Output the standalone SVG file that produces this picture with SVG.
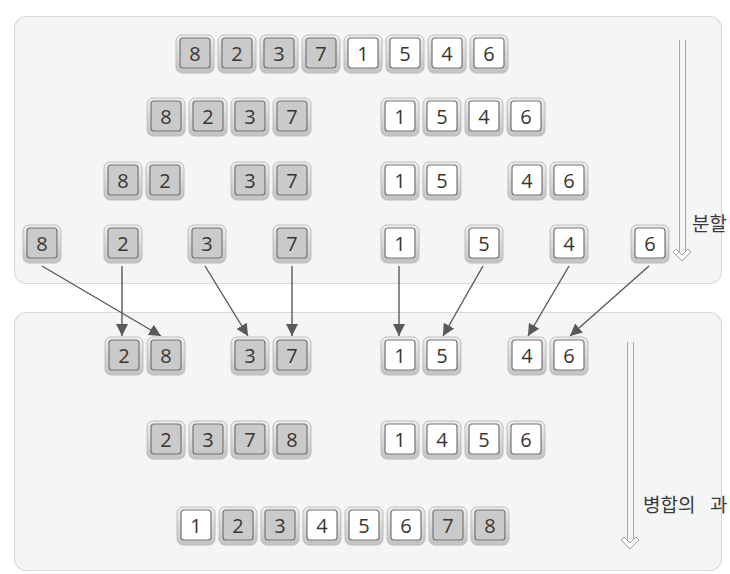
<svg xmlns="http://www.w3.org/2000/svg" xmlns:xlink="http://www.w3.org/1999/xlink" width="730" height="574" viewBox="0 0 730 574">
<style>
.panel{fill:#f4f5f5;stroke:#d9dbdb;stroke-width:1.2}
.k text{font-family:"Open Sans","DejaVu Sans",sans-serif;font-size:20px;fill:#3a3530;text-anchor:middle;dominant-baseline:central}
.conn line{stroke:#595959;stroke-width:1.4;fill:none}
.lbl{font-family:"Noto Sans CJK KR",sans-serif;font-size:19px;fill:#3a3a3a}
.dbl{stroke:#a8a8a8;stroke-width:1;fill:none}
.chev{fill:#ffffff;stroke:#a0a0a0;stroke-width:1}
</style>
<defs>
<linearGradient id="og" x1="0" y1="0" x2="0" y2="1">
<stop offset="0" stop-color="#efefef"/>
<stop offset="1" stop-color="#c2c2c2"/>
</linearGradient>
<g id="keyG">
<rect x="-19" y="-19" width="38" height="38" rx="6" fill="url(#og)" stroke="#bcbcbc" stroke-width="1"/>
<rect x="-15" y="-16" width="30" height="30" rx="3" fill="#cacaca" stroke="#757575" stroke-width="1.2"/>
</g>
<g id="keyW">
<rect x="-19" y="-19" width="38" height="38" rx="6" fill="url(#og)" stroke="#bcbcbc" stroke-width="1"/>
<rect x="-15" y="-16" width="30" height="30" rx="3" fill="#ffffff" stroke="#757575" stroke-width="1.2"/>
</g>
<marker id="ah" viewBox="0 0 10 10" refX="10" refY="5" markerWidth="12" markerHeight="12" markerUnits="userSpaceOnUse" orient="auto">
<path d="M0,0 L10,5 L0,10 Z" fill="#595959"/>
</marker>
</defs>
<rect width="730" height="574" fill="#ffffff"/>
<rect class="panel" x="14.5" y="16.5" width="707" height="267" rx="12"/>
<rect class="panel" x="14.5" y="312.5" width="707" height="258" rx="12"/>

<g id="flow-split">
<line class="dbl" x1="679.5" y1="40" x2="679.5" y2="254"/>
<line class="dbl" x1="685.5" y1="40" x2="685.5" y2="254"/>
<path class="chev" d="M673,252 L676,249 L682,255 L688,249 L691,252 L682,261 Z"/>
<text class="lbl" x="692" y="231">분할</text>
</g>
<g id="flow-merge">
<line class="dbl" x1="627.5" y1="342" x2="627.5" y2="542"/>
<line class="dbl" x1="633.5" y1="342" x2="633.5" y2="542"/>
<path class="chev" d="M621,540 L624,537 L630,543 L636,537 L639,540 L630,549 Z"/>
<text class="lbl" x="643" y="512">병합의<tspan x="710">과</tspan></text>
</g>

<g id="connectors" class="conn">
<line x1="42" y1="266" x2="161" y2="336" marker-end="url(#ah)"/>
<line x1="122" y1="266" x2="122" y2="336" marker-end="url(#ah)"/>
<line x1="205" y1="266" x2="248" y2="336" marker-end="url(#ah)"/>
<line x1="292" y1="266" x2="292" y2="336" marker-end="url(#ah)"/>
<line x1="399" y1="266" x2="399" y2="336" marker-end="url(#ah)"/>
<line x1="483" y1="266" x2="443" y2="336" marker-end="url(#ah)"/>
<line x1="569" y1="266" x2="528" y2="336" marker-end="url(#ah)"/>
<line x1="649" y1="266" x2="570" y2="336" marker-end="url(#ah)"/>
</g>

<g id="r1" class="k">
<g id="r1-8" transform="translate(195,54)"><use href="#keyG"/><text y="-1">8</text></g>
<g id="r1-2" transform="translate(237,54)"><use href="#keyG"/><text y="-1">2</text></g>
<g id="r1-3" transform="translate(279,54)"><use href="#keyG"/><text y="-1">3</text></g>
<g id="r1-7" transform="translate(321,54)"><use href="#keyG"/><text y="-1">7</text></g>
<g id="r1-1" transform="translate(363,54)"><use href="#keyW"/><text y="-1">1</text></g>
<g id="r1-5" transform="translate(405,54)"><use href="#keyW"/><text y="-1">5</text></g>
<g id="r1-4" transform="translate(447,54)"><use href="#keyW"/><text y="-1">4</text></g>
<g id="r1-6" transform="translate(489,54)"><use href="#keyW"/><text y="-1">6</text></g>
</g>
<g id="r2" class="k">
<g id="r2-8" transform="translate(166,117)"><use href="#keyG"/><text y="-1">8</text></g>
<g id="r2-2" transform="translate(208,117)"><use href="#keyG"/><text y="-1">2</text></g>
<g id="r2-3" transform="translate(250,117)"><use href="#keyG"/><text y="-1">3</text></g>
<g id="r2-7" transform="translate(292,117)"><use href="#keyG"/><text y="-1">7</text></g>
<g id="r2-1" transform="translate(400,117)"><use href="#keyW"/><text y="-1">1</text></g>
<g id="r2-5" transform="translate(442,117)"><use href="#keyW"/><text y="-1">5</text></g>
<g id="r2-4" transform="translate(484,117)"><use href="#keyW"/><text y="-1">4</text></g>
<g id="r2-6" transform="translate(526,117)"><use href="#keyW"/><text y="-1">6</text></g>
</g>
<g id="r3" class="k">
<g id="r3-8" transform="translate(123,181)"><use href="#keyG"/><text y="-1">8</text></g>
<g id="r3-2" transform="translate(165,181)"><use href="#keyG"/><text y="-1">2</text></g>
<g id="r3-3" transform="translate(250,181)"><use href="#keyG"/><text y="-1">3</text></g>
<g id="r3-7" transform="translate(292,181)"><use href="#keyG"/><text y="-1">7</text></g>
<g id="r3-1" transform="translate(400,181)"><use href="#keyW"/><text y="-1">1</text></g>
<g id="r3-5" transform="translate(442,181)"><use href="#keyW"/><text y="-1">5</text></g>
<g id="r3-4" transform="translate(527,181)"><use href="#keyW"/><text y="-1">4</text></g>
<g id="r3-6" transform="translate(569,181)"><use href="#keyW"/><text y="-1">6</text></g>
</g>
<g id="r4" class="k">
<g id="r4-8" transform="translate(42,244)"><use href="#keyG"/><text y="-1">8</text></g>
<g id="r4-2" transform="translate(123,244)"><use href="#keyG"/><text y="-1">2</text></g>
<g id="r4-3" transform="translate(207,244)"><use href="#keyG"/><text y="-1">3</text></g>
<g id="r4-7" transform="translate(292,244)"><use href="#keyG"/><text y="-1">7</text></g>
<g id="r4-1" transform="translate(400,244)"><use href="#keyW"/><text y="-1">1</text></g>
<g id="r4-5" transform="translate(484,244)"><use href="#keyW"/><text y="-1">5</text></g>
<g id="r4-4" transform="translate(569,244)"><use href="#keyW"/><text y="-1">4</text></g>
<g id="r4-6" transform="translate(650,244)"><use href="#keyW"/><text y="-1">6</text></g>
</g>
<g id="r5" class="k">
<g id="r5-2" transform="translate(124,356)"><use href="#keyG"/><text y="-1">2</text></g>
<g id="r5-8" transform="translate(166,356)"><use href="#keyG"/><text y="-1">8</text></g>
<g id="r5-3" transform="translate(250,356)"><use href="#keyG"/><text y="-1">3</text></g>
<g id="r5-7" transform="translate(292,356)"><use href="#keyG"/><text y="-1">7</text></g>
<g id="r5-1" transform="translate(400,356)"><use href="#keyW"/><text y="-1">1</text></g>
<g id="r5-5" transform="translate(442,356)"><use href="#keyW"/><text y="-1">5</text></g>
<g id="r5-4" transform="translate(527,356)"><use href="#keyW"/><text y="-1">4</text></g>
<g id="r5-6" transform="translate(569,356)"><use href="#keyW"/><text y="-1">6</text></g>
</g>
<g id="r6" class="k">
<g id="r6-2" transform="translate(166,440)"><use href="#keyG"/><text y="-1">2</text></g>
<g id="r6-3" transform="translate(208,440)"><use href="#keyG"/><text y="-1">3</text></g>
<g id="r6-7" transform="translate(250,440)"><use href="#keyG"/><text y="-1">7</text></g>
<g id="r6-8" transform="translate(292,440)"><use href="#keyG"/><text y="-1">8</text></g>
<g id="r6-1" transform="translate(400,440)"><use href="#keyW"/><text y="-1">1</text></g>
<g id="r6-4" transform="translate(442,440)"><use href="#keyW"/><text y="-1">4</text></g>
<g id="r6-5" transform="translate(484,440)"><use href="#keyW"/><text y="-1">5</text></g>
<g id="r6-6" transform="translate(526,440)"><use href="#keyW"/><text y="-1">6</text></g>
</g>
<g id="r7" class="k">
<g id="r7-1" transform="translate(196,526)"><use href="#keyW"/><text y="-1">1</text></g>
<g id="r7-2" transform="translate(238,526)"><use href="#keyG"/><text y="-1">2</text></g>
<g id="r7-3" transform="translate(280,526)"><use href="#keyG"/><text y="-1">3</text></g>
<g id="r7-4" transform="translate(322,526)"><use href="#keyW"/><text y="-1">4</text></g>
<g id="r7-5" transform="translate(364,526)"><use href="#keyW"/><text y="-1">5</text></g>
<g id="r7-6" transform="translate(406,526)"><use href="#keyW"/><text y="-1">6</text></g>
<g id="r7-7" transform="translate(448,526)"><use href="#keyG"/><text y="-1">7</text></g>
<g id="r7-8" transform="translate(490,526)"><use href="#keyG"/><text y="-1">8</text></g>
</g>
</svg>
